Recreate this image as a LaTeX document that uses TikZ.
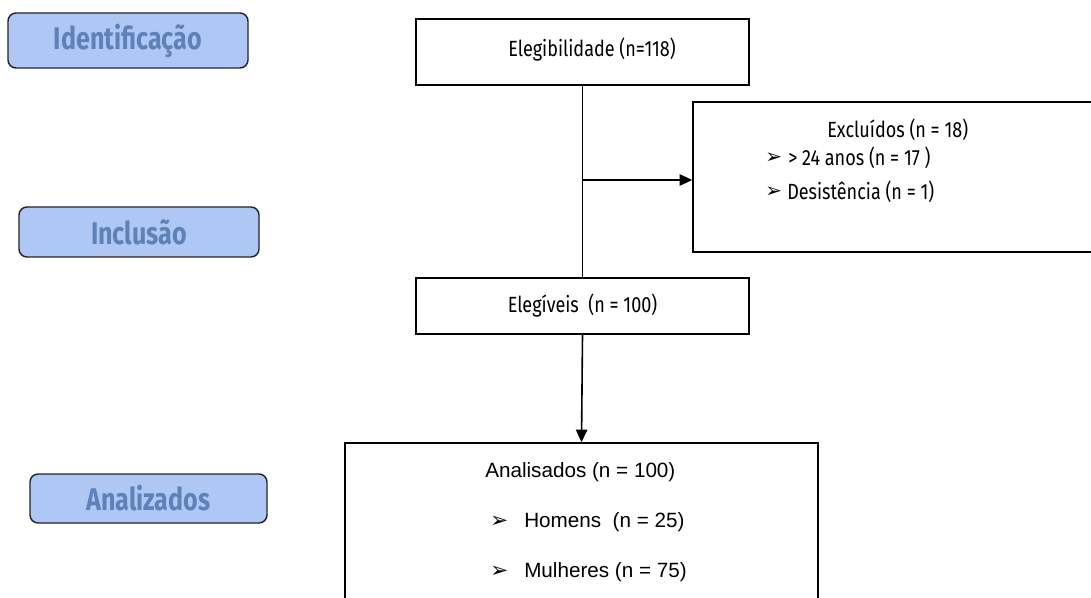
\documentclass[tikz,border=0pt]{standalone}
\usepackage{fontspec}
\setmainfont{Fira Sans}
\newfontfamily\condfont[FakeStretch=0.82]{Fira Sans}
\newfontfamily\labfont[FakeStretch=0.80]{Fira Sans}
\newfontfamily\arialfont{Liberation Sans}
\newfontfamily\symfont{DejaVu Sans}
\usetikzlibrary{arrows.meta}
\definecolor{labfill}{RGB}{175,199,245}
\definecolor{labtext}{RGB}{94,130,184}
\def\px{0.75pt}
\tikzset{
  flowbox/.style={draw=black, line width=1.1pt, fill=white, inner sep=0pt},
  phase/.style={draw=black!85, line width=1.1pt, fill=labfill, rounded corners=6pt,
    text=labtext, font=\labfont\bfseries\fontsize{23.5}{27}\selectfont, inner sep=0pt},
  conn/.style={line width=1.2pt, draw=black},
  tip/.style={-{Triangle[length=9.5pt,width=8.5pt]}},
  ctext/.style={font=\condfont\fontsize{16.5}{19}\selectfont, inner sep=0pt},
  atext/.style={font=\arialfont\fontsize{15.5}{18}\selectfont, inner sep=0pt},
  bul/.style={font=\symfont\fontsize{15}{17}\selectfont, inner sep=0pt},
  bulb/.style={font=\symfont\fontsize{16}{18}\selectfont, inner sep=0pt},
}
\begin{document}
\begin{tikzpicture}[x=0.75pt,y=-0.75pt]
\useasboundingbox (0,0) rectangle (1091,598);
\clip (0,0) rectangle (1091,598);
\fill[white] (0,0) rectangle (1091,598);

% phase labels
\node[phase, minimum width=240*\px, minimum height=55*\px] (id) at (128,40.5) {Identificação};
\node[phase, minimum width=240*\px, minimum height=50*\px] (inc) at (139,232) {Inclusão};
\node[phase, minimum width=237*\px, minimum height=49*\px] (anz) at (148.5,498.5) {Analizados};

% flow boxes
\node[flowbox, minimum width=333*\px, minimum height=66*\px] (elig) at (582.5,52) {};
\node[ctext] (eligt) at (592,50) {Elegibilidade (n=118)};

\node[flowbox, minimum width=420*\px, minimum height=150*\px] (excl) at (903,177) {};
\node[ctext, anchor=west] (exclt) at (827,130) {Excluídos (n = 18)};
\node[bul, anchor=west] (b1) at (765,158) {➢};
\node[ctext, anchor=west] (e1) at (788,158) {> 24 anos (n = 17 )};
\node[bul, anchor=west] (b2) at (765,192) {➢};
\node[ctext, anchor=west] (e2) at (787,192) {Desistência (n = 1)};

\node[flowbox, minimum width=333*\px, minimum height=56*\px] (eleg) at (582.5,306) {};
\node[ctext] (elegt) at (582.5,306) {Elegíveis\ \ (n = 100)};

\node[flowbox, minimum width=473*\px, minimum height=180*\px] (anal) at (581.5,533) {};
\node[atext, anchor=west] (a0) at (485,472) {Analisados (n = 100)};
\node[bulb, anchor=west] (b3) at (490,522) {➢};
\node[atext, anchor=west] (a1) at (524,522) {Homens\ \ (n = 25)};
\node[bulb, anchor=west] (b4) at (490,572) {➢};
\node[atext, anchor=west] (a2) at (524,572) {Mulheres (n = 75)};

% connectors
\coordinate (br) at (583,180);
\draw[conn] (elig.south) -- (eleg.north);
\draw[conn, tip] (br) -- (excl.west |- br);
\draw[conn, tip] (eleg.south) -- (anal.north);
\end{tikzpicture}
\end{document}
